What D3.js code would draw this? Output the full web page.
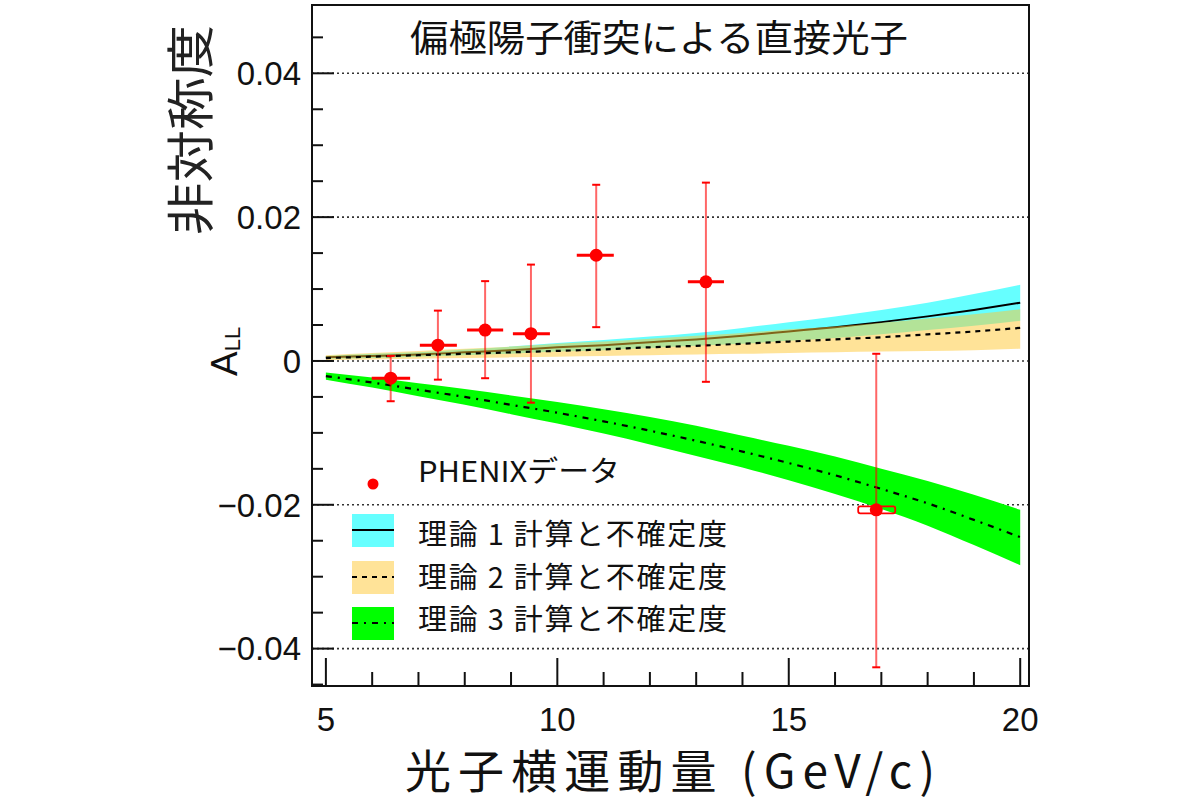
<!DOCTYPE html>
<html><head><meta charset="utf-8">
<script src="https://cdn.jsdelivr.net/npm/d3@7"></script>
<style>
html,body{margin:0;padding:0;background:#fff;}
svg{display:block;}
</style></head>
<body><svg id="c" width="1200" height="800"></svg>
<script>
// ---- data ----
const titleText = "偏極陽子衝突による直接光子";
const yTitle = "非対称度";
const xTitle = "光子横運動量 (GeV/c)";
const xTicks = [5, 10, 15, 20];
const xTickLabels = ["5", "10", "15", "20"];
const yTicks = [-0.04, -0.02, 0, 0.02, 0.04];
const yTickLabels = ["\u22120.04", "\u22120.02", "0", "0.02", "0.04"];

// theory curves (pT grid)
const thX = [5, 6, 7, 8, 9, 10, 11, 12, 13, 14, 15, 16, 17, 18, 19, 20];
const th1 = [0.0005, 0.0007, 0.0009, 0.0012, 0.0015, 0.0019, 0.0022, 0.0026, 0.0030, 0.0035, 0.0041, 0.0047, 0.0054, 0.0062, 0.0071, 0.0081];
const th1Hi = [0.0007, 0.0010, 0.0012, 0.0016, 0.0020, 0.0025, 0.0029, 0.0034, 0.0039, 0.0046, 0.0054, 0.0062, 0.0071, 0.0081, 0.0093, 0.0106];
const th1Lo = [0.0003, 0.0004, 0.0006, 0.0008, 0.0010, 0.0013, 0.0015, 0.0018, 0.0021, 0.0024, 0.0028, 0.0032, 0.0037, 0.0043, 0.0049, 0.0056];
const th2 = [0.0004, 0.0006, 0.0008, 0.0010, 0.0012, 0.0014, 0.0016, 0.0019, 0.0021, 0.0024, 0.0027, 0.0030, 0.0033, 0.0037, 0.0041, 0.0046];
const th2Hi = [0.0008, 0.0011, 0.0014, 0.0017, 0.0020, 0.0024, 0.0027, 0.0031, 0.0035, 0.0039, 0.0044, 0.0048, 0.0053, 0.0059, 0.0065, 0.0072];
const th2Lo = [0.0001, 0.0002, 0.0003, 0.0004, 0.0005, 0.0006, 0.0007, 0.0008, 0.0009, 0.0010, 0.0011, 0.0012, 0.0013, 0.0014, 0.0015, 0.0017];
const th3 = [-0.0021, -0.0030, -0.0040, -0.0050, -0.0061, -0.0072, -0.0084, -0.0097, -0.0111, -0.0126, -0.0142, -0.0159, -0.0178, -0.0198, -0.0221, -0.0245];
const th3Hi = [-0.0016, -0.0023, -0.0031, -0.0039, -0.0048, -0.0057, -0.0067, -0.0078, -0.0090, -0.0104, -0.0118, -0.0133, -0.0150, -0.0167, -0.0186, -0.0207];
const th3Lo = [-0.0026, -0.0037, -0.0049, -0.0061, -0.0074, -0.0087, -0.0101, -0.0116, -0.0132, -0.0148, -0.0166, -0.0185, -0.0206, -0.0229, -0.0256, -0.0284];

// PHENIX data
const ptX = [6.40, 7.42, 8.44, 9.43, 10.84, 13.21, 16.89];
const ptY = [-0.0024, 0.0022, 0.0043, 0.0038, 0.0147, 0.0110, -0.0207];
const ptYHi = [0.0007, 0.0070, 0.0111, 0.0134, 0.0245, 0.0248, 0.0010];
const ptYLo = [-0.0056, -0.0026, -0.0024, -0.0058, 0.0047, -0.0029, -0.0426];
const ptXLo = [5.99, 7.03, 8.05, 9.04, 10.42, 12.82, 16.50];
const ptXHi = [6.82, 7.83, 8.83, 9.84, 11.22, 13.60, 17.30];

const legendLabels = ["PHENIXデータ", "理論 1 計算と不確定度", "理論 2 計算と不確定度", "理論 3 計算と不確定度"];

// ---- drawing ----
const JP = "'Noto Sans CJK JP', 'Noto Sans', sans-serif";
const NUM = "'Liberation Sans', Arial, sans-serif";
const svg = d3.select("#c");
const L = 312, R = 1029, T = 5, B = 686;
const x = d3.scaleLinear().domain([4.7, 20.19]).range([L, R]);
const y = d3.scaleLinear().domain([-0.0452, 0.0495]).range([B, T]);

const cyan = "#66ffff", yellow = "rgb(255,200,50)", green = "#00ff00";

// gridlines
svg.append("g").selectAll("line").data(yTicks).join("line")
  .attr("x1", L).attr("x2", R).attr("y1", d => y(d)).attr("y2", d => y(d))
  .attr("stroke", "#333").attr("stroke-width", 1.6).attr("stroke-dasharray", "2,3");

const pts = (arr) => thX.map((v, i) => [v, arr[i]]);
const area = (hi, lo) => d3.area().x((d, i) => x(thX[i])).y0((d, i) => y(lo[i])).y1((d, i) => y(hi[i])).curve(d3.curveMonotoneX)(thX);
const line = d3.line().x(d => x(d[0])).y(d => y(d[1])).curve(d3.curveMonotoneX);

svg.append("path").attr("d", area(th1Hi, th1Lo)).attr("fill", cyan);
svg.append("path").attr("d", line(pts(th1))).attr("fill", "none").attr("stroke", "#000").attr("stroke-width", 2);
svg.append("path").attr("d", area(th2Hi, th2Lo)).attr("fill", yellow).attr("fill-opacity", 0.5);
svg.append("path").attr("d", line(pts(th2))).attr("fill", "none").attr("stroke", "#000").attr("stroke-width", 2.2).attr("stroke-dasharray", "5,5");
svg.append("path").attr("d", area(th3Hi, th3Lo)).attr("fill", green);
svg.append("path").attr("d", line(pts(th3))).attr("fill", "none").attr("stroke", "#000").attr("stroke-width", 2.2).attr("stroke-dasharray", "6,6,2,6");

// frame & ticks
svg.append("rect").attr("x", L).attr("y", T).attr("width", R - L).attr("height", B - T)
  .attr("fill", "none").attr("stroke", "#111").attr("stroke-width", 2);
const yMinor = d3.range(-0.045, 0.0451, 0.005).map(v => Math.round(v * 1000) / 1000);
svg.append("g").selectAll("line").data(yMinor).join("line")
  .attr("x1", L).attr("x2", d => L + (yTicks.some(t => Math.abs(t - d) < 1e-6) ? 22 : 11))
  .attr("y1", d => y(d)).attr("y2", d => y(d)).attr("stroke", "#111").attr("stroke-width", 2);
const xMinor = d3.range(5, 20.01, 1);
svg.append("g").selectAll("line").data(xMinor).join("line")
  .attr("x1", d => x(d)).attr("x2", d => x(d))
  .attr("y1", B).attr("y2", d => B - (d % 5 === 0 ? 28 : 14)).attr("stroke", "#111").attr("stroke-width", 2);

// tick labels
svg.append("g").selectAll("text").data(yTicks).join("text")
  .attr("x", 301).attr("y", d => y(d)).attr("dy", "0.36em").attr("text-anchor", "end")
  .attr("font-family", NUM).attr("font-size", 33).attr("fill", "#111")
  .text((d, i) => yTickLabels[i]);
svg.append("g").selectAll("text").data(xTicks).join("text")
  .attr("x", d => x(d)).attr("y", 731).attr("text-anchor", "middle")
  .attr("font-family", NUM).attr("font-size", 33).attr("fill", "#111")
  .text((d, i) => xTickLabels[i]);

// titles
svg.append("text").attr("x", 659).attr("y", 52).attr("text-anchor", "middle")
  .attr("font-family", JP).attr("font-size", 37).attr("fill", "#111")
  .attr("textLength", 498).attr("lengthAdjust", "spacingAndGlyphs").text(titleText);
svg.append("text").attr("transform", "translate(208,130) rotate(-90)").attr("text-anchor", "middle")
  .attr("font-family", JP).attr("font-size", 48).attr("fill", "#222")
  .attr("textLength", 210).attr("lengthAdjust", "spacingAndGlyphs").text(yTitle);
const all = svg.append("text").attr("transform", "translate(237,376) rotate(-90)")
  .attr("font-family", NUM).attr("font-size", 37).attr("fill", "#111");
all.append("tspan").text("A");
all.append("tspan").attr("font-size", 22).attr("dy", 3).text("LL");
svg.append("text").attr("x", 670).attr("y", 788).attr("text-anchor", "middle")
  .attr("font-family", JP).attr("font-size", 46).attr("fill", "#111")
  .attr("textLength", 530).attr("lengthAdjust", "spacing").text(xTitle);

// data points
const eg = svg.append("g");
ptX.forEach((px, i) => {
  eg.append("line").attr("x1", x(px)).attr("x2", x(px)).attr("y1", y(ptYHi[i])).attr("y2", y(ptYLo[i]))
    .attr("stroke", "#ff0000").attr("stroke-opacity", 0.6).attr("stroke-width", 2);
  [ptYHi[i], ptYLo[i]].forEach(v => eg.append("line").attr("x1", x(px) - 4).attr("x2", x(px) + 4)
    .attr("y1", y(v)).attr("y2", y(v)).attr("stroke", "#ff0000").attr("stroke-width", 2));
  if (i === ptX.length - 1) {
    eg.append("rect").attr("x", x(ptXLo[i])).attr("y", y(ptY[i]) - 3.5).attr("width", x(ptXHi[i]) - x(ptXLo[i])).attr("height", 7)
      .attr("rx", 2).attr("fill", "none").attr("stroke", "#ff0000").attr("stroke-width", 1.8);
  } else {
    eg.append("line").attr("x1", x(ptXLo[i])).attr("x2", x(ptXHi[i])).attr("y1", y(ptY[i])).attr("y2", y(ptY[i]))
      .attr("stroke", "#ff0000").attr("stroke-width", 3);
  }
  eg.append("circle").attr("cx", x(px)).attr("cy", y(ptY[i])).attr("r", 6.5).attr("fill", "#ff0000");
});

// legend
const lg = svg.append("g");
lg.append("circle").attr("cx", 373).attr("cy", 484).attr("r", 5.5).attr("fill", "#ff0000");
lg.append("text").attr("x", 418).attr("y", 482).attr("font-family", JP).attr("font-size", 29).attr("fill", "#111")
  .attr("textLength", 202).attr("lengthAdjust", "spacingAndGlyphs").text(legendLabels[0]);
const swCols = [cyan, "rgb(255,227,152)", green];
const swDash = [null, "5,5", "6,6,2,6"];
const swY = [530, 577, 623];
const txtY = [545, 588, 630];
swCols.forEach((c, i) => {
  lg.append("rect").attr("x", 352).attr("y", swY[i] - 16).attr("width", 42).attr("height", 33).attr("fill", c);
  lg.append("line").attr("x1", 352).attr("x2", 394).attr("y1", swY[i]).attr("y2", swY[i])
    .attr("stroke", "#000").attr("stroke-width", 2).attr("stroke-dasharray", swDash[i]);
  lg.append("text").attr("x", 418).attr("y", txtY[i]).attr("font-family", JP).attr("font-size", 29).attr("fill", "#111")
    .attr("textLength", 309).attr("lengthAdjust", "spacing").text(legendLabels[i + 1]);
});
</script></body></html>
